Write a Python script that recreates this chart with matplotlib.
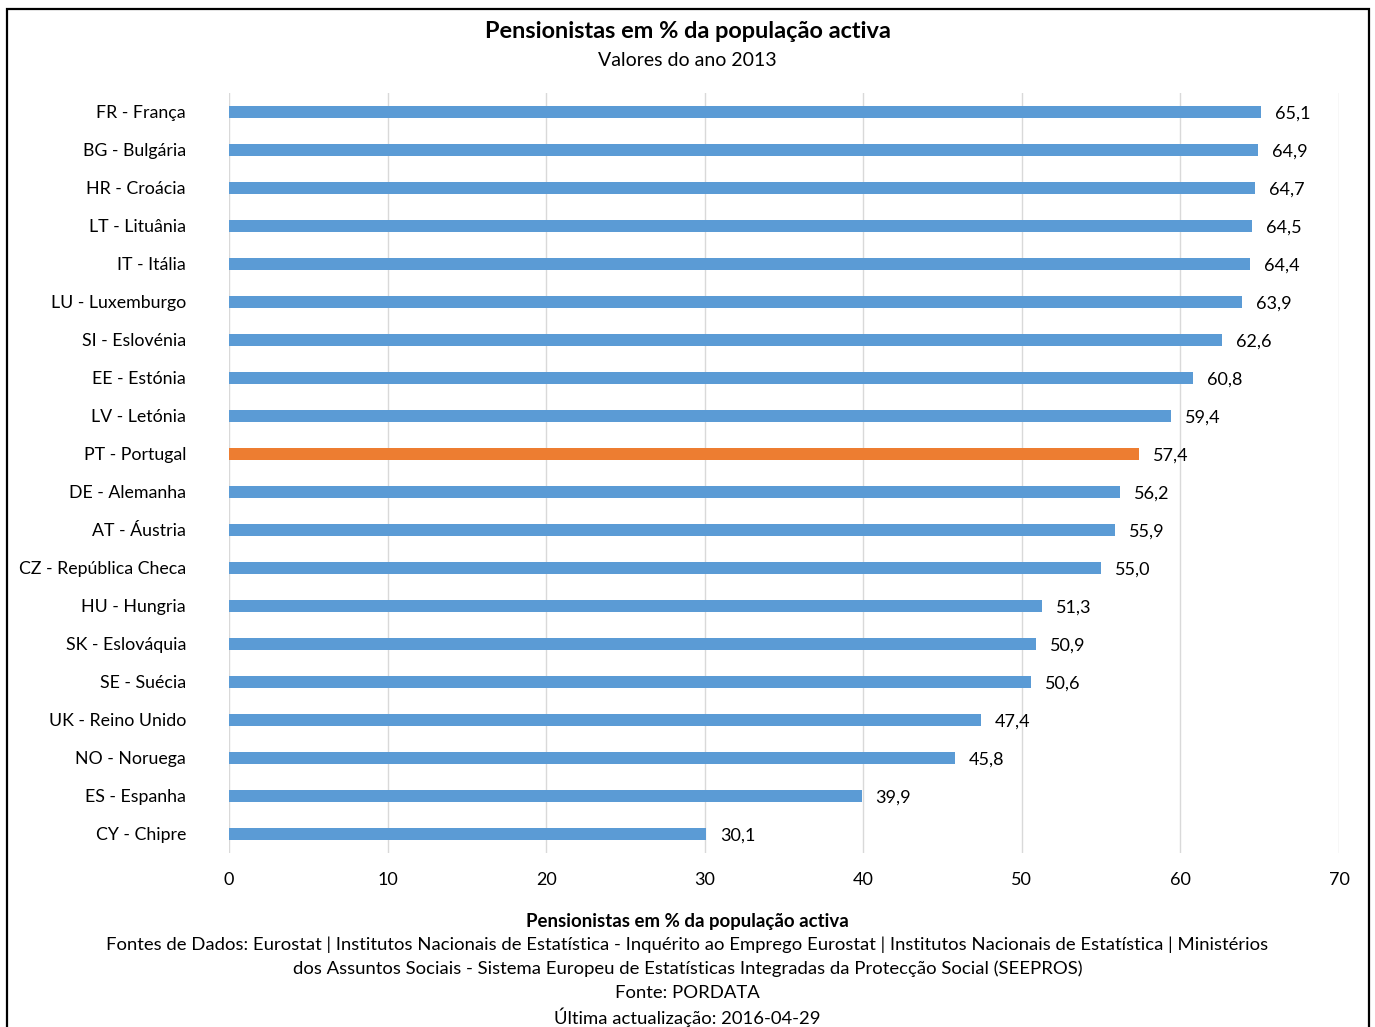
import matplotlib.pyplot as plt
from matplotlib.patches import Rectangle

countries = ['FR - França', 'BG - Bulgária', 'HR - Croácia', 'LT - Lituânia',
             'IT - Itália', 'LU - Luxemburgo', 'SI - Eslovénia', 'EE - Estónia',
             'LV - Letónia', 'PT - Portugal', 'DE - Alemanha', 'AT - Áustria',
             'CZ - República Checa', 'HU - Hungria', 'SK - Eslováquia',
             'SE - Suécia', 'UK - Reino Unido', 'NO - Noruega', 'ES - Espanha',
             'CY - Chipre']
values = [65.1, 64.9, 64.7, 64.5, 64.4, 63.9, 62.6, 60.8, 59.4, 57.4,
          56.2, 55.9, 55.0, 51.3, 50.9, 50.6, 47.4, 45.8, 39.9, 30.1]
highlight = 'PT - Portugal'
xticks = [0, 10, 20, 30, 40, 50, 60, 70]

title = 'Pensionistas em % da população activa'
subtitle = 'Valores do ano 2013'
footer_lines = [
    'Fontes de Dados: Eurostat | Institutos Nacionais de Estatística - Inquérito ao Emprego Eurostat | Institutos Nacionais de Estatística | Ministérios',
    'dos Assuntos Sociais - Sistema Europeu de Estatísticas Integradas da Protecção Social (SEEPROS)',
    'Fonte: PORDATA',
    'Última actualização: 2016-04-29',
]

plt.rcParams['font.family'] = ['Lato', 'DejaVu Sans']

fig = plt.figure(figsize=(13.75, 10.27), dpi=100)
ax = fig.add_axes([229 / 1375, 1 - 853 / 1027, 1110 / 1375, 760 / 1027])

blue = '#5B9BD5'
orange = '#ED7D31'
colors = [orange if c == highlight else blue for c in countries]
pos = list(range(len(countries)))
ax.barh(pos, values, height=0.34, color=colors, zorder=3)

for y, v in zip(pos, values):
    ax.annotate(f'{v:.1f}'.replace('.', ','), (v, y), xytext=(10, -1),
                textcoords='offset points', va='center', ha='left', fontsize=13)

ax.set_xlim(0, 70)
ax.set_ylim(len(countries) - 0.5, -0.5)
ax.set_xticks(xticks)
ax.set_xticklabels([str(t) for t in xticks], fontsize=13)
ax.set_yticks(pos)
ax.set_yticklabels(countries, fontsize=12.8)
ax.tick_params(length=0)
ax.tick_params(axis='x', pad=14)
ax.tick_params(axis='y', pad=31)
ax.grid(axis='x', color='#D9D9D9', linewidth=1, zorder=0)
for s in ax.spines.values():
    s.set_visible(False)

fig.text(0.5, 1 - 31 / 1027, title, ha='center', va='center',
         fontsize=16.9, fontweight='bold')
fig.text(0.5, 1 - 60 / 1027, subtitle, ha='center', va='center', fontsize=14)

fig.text(0.5, 1 - 921 / 1027, title, ha='center', va='center',
         fontsize=13.4, fontweight='bold')
for i, line in enumerate(footer_lines):
    fig.text(0.5, 1 - (945 + 24 * i) / 1027, line, ha='center', va='center',
             fontsize=13.3)

fig.patches.append(Rectangle((7 / 1375, -0.05), 1362 / 1375, 1.05 - 9 / 1027,
                             transform=fig.transFigure, fill=False,
                             edgecolor='black', linewidth=1.6))

plt.savefig('out.png', dpi=100)
